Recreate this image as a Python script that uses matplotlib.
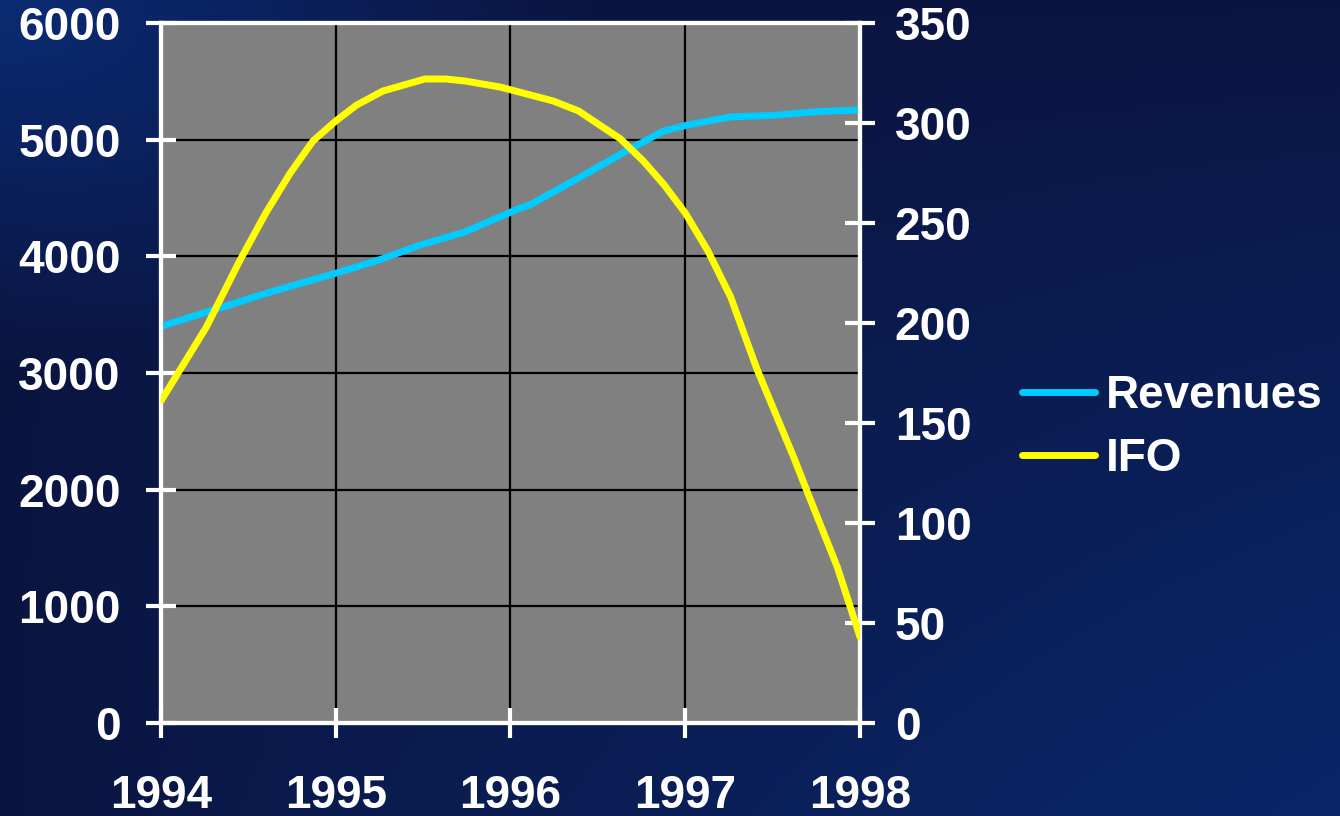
import numpy as np
import matplotlib.pyplot as plt

plt.rcParams['font.family'] = ['Liberation Sans', 'DejaVu Sans']
plt.rcParams['font.weight'] = 'bold'

# Revenues (left axis)
rev_x = [1994.0, 1994.30, 1994.64, 1995.0, 1995.25, 1995.48, 1995.74, 1996.05,
         1996.11, 1996.40, 1996.66, 1996.87, 1997.01, 1997.26, 1997.52, 1997.75, 1998.0]
rev_y = [3400, 3540, 3700, 3855, 3970, 4095, 4210, 4410,
         4440, 4680, 4900, 5070, 5125, 5195, 5210, 5240, 5255]

# IFO (right axis)
ifo_x = [1994.0, 1994.26, 1994.45, 1994.60, 1994.74, 1994.87, 1995.0, 1995.12,
         1995.27, 1995.51, 1995.63, 1995.74, 1995.94, 1996.245, 1996.39, 1996.63,
         1996.76, 1996.88, 1997.0, 1997.13, 1997.26, 1997.41, 1997.62, 1997.71,
         1997.87, 1998.0]
ifo_y = [161, 198, 231, 255, 275, 291, 301, 309,
         316, 322, 322, 321, 318, 311, 306, 292,
         281, 269, 255, 236, 213, 177, 133, 113,
         78, 43]

years = [1994, 1995, 1996, 1997, 1998]
left_ticks = [0, 1000, 2000, 3000, 4000, 5000, 6000]
right_ticks = [0, 50, 100, 150, 200, 250, 300, 350]

fig = plt.figure(figsize=(13.4, 8.16), dpi=100)

# dark blue backdrop with a soft gradient
bg = fig.add_axes([0, 0, 1, 1], zorder=-10)
gx, gy = np.meshgrid(np.linspace(0, 1, 300), np.linspace(0, 1, 200))
dark = np.array([0.04, 0.08, 0.25])
light = np.array([0.04, 0.17, 0.45])
t = np.clip(0.5 * (gx * gy) ** 0.8 * 1.6 + np.clip(1 - np.hypot(gx, gy) / 0.45, 0, 1), 0, 1)
img = dark[None, None, :] * (1 - t[..., None]) + light[None, None, :] * t[..., None]
bg.imshow(img, aspect='auto', extent=[0, 1, 0, 1], origin='upper')
bg.axis('off')

ax = fig.add_axes([0.1201, 0.1140, 0.6418 - 0.1201, 0.9718 - 0.1140])
ax.set_facecolor('#808080')
ax2 = ax.twinx()

ax.plot(rev_x, rev_y, color='#00CCFF', lw=5, solid_capstyle='round', label='Revenues', zorder=3)
ax2.plot(ifo_x, ifo_y, color='#FFFF00', lw=5, solid_capstyle='round', label='IFO', zorder=3)

ax.set_xlim(1994, 1998)
ax.set_ylim(0, 6000)
ax2.set_ylim(0, 350)
ax.set_xticks(years)
ax.set_yticks(left_ticks)
ax2.set_yticks(right_ticks)

ax.grid(True, color='black', lw=1.6)
ax.set_axisbelow(True)

for a in (ax, ax2):
    for s in a.spines.values():
        s.set_color('white')
        s.set_linewidth(3)

ax.tick_params(axis='x', direction='inout', length=22, width=3, color='white',
               labelcolor='white', labelsize=33, pad=26)
ax.tick_params(axis='y', direction='inout', length=22, width=3, color='white',
               labelcolor='white', labelsize=33, pad=18)
ax2.tick_params(axis='y', direction='inout', length=22, width=3, color='white',
                labelcolor='white', labelsize=33, pad=14)

h1, l1 = ax.get_legend_handles_labels()
h2, l2 = ax2.get_legend_handles_labels()
leg = fig.legend(h1 + h2, l1 + l2, loc='center left', bbox_to_anchor=(1022 / 1340, 0.476),
                 frameon=False, fontsize=33, handlelength=1.6, handletextpad=0.24,
                 labelspacing=0.41, borderpad=0, borderaxespad=0)
for txt in leg.get_texts():
    txt.set_color('white')

fig.savefig('out.png', dpi=100)
